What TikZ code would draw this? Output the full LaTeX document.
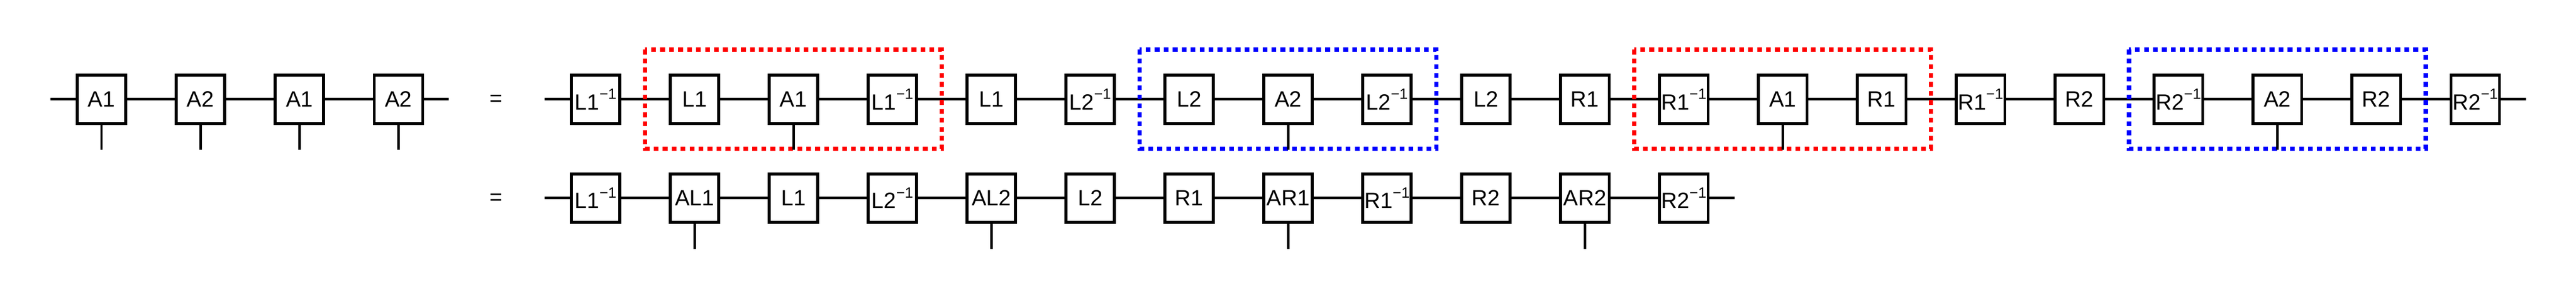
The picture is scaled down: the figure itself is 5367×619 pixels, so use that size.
\documentclass[tikz,border=0pt]{standalone}
\usepackage{fontspec}
\setmainfont{Liberation Sans}
\newcommand\myinv{\raisebox{4.4pt}{\fontsize{6.2pt}{7pt}\selectfont −1}}
\begin{document}
\begin{tikzpicture}[x=0.2pt,y=-0.2pt,
  gate/.style={draw, line width=1.2pt, minimum width=20.2pt, minimum height=20.2pt,
    inner sep=0pt, font=\fontsize{9.2pt}{11pt}\selectfont},
  eqsign/.style={inner sep=0pt, font=\fontsize{9.2pt}{11pt}\selectfont},
  wire/.style={line width=1.05pt},
  leg/.style={line width=1.05pt},
  reddots/.style={draw=red, line width=1.8pt, dash pattern=on 2pt off 1.74pt},
  bluedots/.style={draw=blue, line width=1.8pt, dash pattern=on 2pt off 1.74pt}]
\useasboundingbox (0,0) rectangle (5367,619);

% left side
\foreach \lab [count=\i from 0] in {A1,A2,A1,A2}
  \node[gate] (a\i) at ({211.5+206.2*\i},207) {\lab};
\coordinate (as) at (105,207);
\coordinate (ae) at (935,207);
\draw[wire] (as) -- (a0.west);
\foreach \i [evaluate=\i as \j using int(\i+1)] in {0,1,2}
  \draw[wire] (a\i.east) -- (a\j.west);
\draw[wire] (a3.east) -- (ae);

\node[eqsign] (eq1) at (1034,209) {=};
\node[eqsign] (eq2) at (1034,415) {=};

% row 1
\foreach \lab [count=\i from 0] in {L1\myinv,L1,A1,L1\myinv,L1,L2\myinv,L2,A2,L2\myinv,L2,
    R1,R1\myinv,A1,R1,R1\myinv,R2,R2\myinv,A2,R2,R2\myinv}
  \node[gate] (t\i) at ({1241+206.1*\i},207) {\lab};
\coordinate (ts) at (1135,207);
\coordinate (te) at (5263,207);
\draw[wire] (ts) -- (t0.west);
\foreach \i [evaluate=\i as \j using int(\i+1)] in {0,...,18}
  \draw[wire] (t\i.east) -- (t\j.west);
\draw[wire] (t19.east) -- (te);

% row 2
\foreach \lab [count=\i from 0] in {L1\myinv,AL1,L1,L2\myinv,AL2,L2,R1,AR1,R1\myinv,R2,AR2,R2\myinv}
  \node[gate] (b\i) at ({1241+206.1*\i},413) {\lab};
\coordinate (bs) at (1135,413);
\coordinate (be) at (3614,413);
\draw[wire] (bs) -- (b0.west);
\foreach \i [evaluate=\i as \j using int(\i+1)] in {0,...,10}
  \draw[wire] (b\i.east) -- (b\j.west);
\draw[wire] (b11.east) -- (be);

% dotted groups
\draw[reddots] (1344.05,103.5) rectangle (1962.35,310);
\draw[bluedots] (2374.55,103.5) rectangle (2992.85,310);
\draw[reddots] (3405.05,103.5) rectangle (4023.35,310);
\draw[bluedots] (4435.55,103.5) rectangle (5053.85,310);

% legs
\foreach \i in {0,1,2,3} {
  \coordinate (al\i) at ({211.5+206.2*\i},312);
  \draw[leg] (a\i.south) -- (al\i);
}
\foreach \i in {2,7,12,17} {
  \coordinate (tl\i) at ({1241+206.1*\i},312);
  \draw[leg] (t\i.south) -- (tl\i);
}
\foreach \i in {1,4,7,10} {
  \coordinate (bl\i) at ({1241+206.1*\i},519);
  \draw[leg] (b\i.south) -- (bl\i);
}
\end{tikzpicture}
\end{document}
